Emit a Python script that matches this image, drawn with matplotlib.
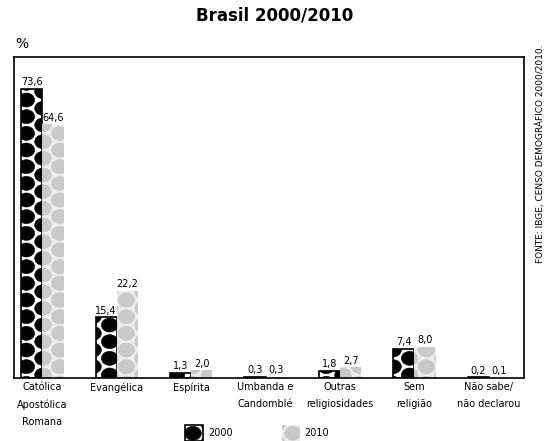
import warnings
import matplotlib.pyplot as plt
import matplotlib.hatch as mhatch
from matplotlib.path import Path
import numpy as np

warnings.filterwarnings("ignore")

# data
categories = ["Católica\nApostólica\nRomana", "Evangélica", "Espírita",
              "Umbanda e\nCandomblé", "Outras\nreligiosidades", "Sem\nreligião",
              "Não sabe/\nnão declarou"]
values_2000 = [73.6, 15.4, 1.3, 0.3, 1.8, 7.4, 0.2]
values_2010 = [64.6, 22.2, 2.0, 0.3, 2.7, 8.0, 0.1]
years = ["2000", "2010"]


class OvalDots(mhatch.HatchPatternBase):
    # filled ovals on a staggered grid, used with hatch="e"
    def __init__(self, hatch, density):
        circle = Path.unit_circle()
        self.shape_vertices = circle.vertices
        self.shape_codes = circle.codes
        dx = -0.07
        self.centres = [(dx + i / 3, j / 6) for i in range(-1, 5) for j in range(-1, 8)]
        self.centres += [(dx + 1 / 6 + i / 3, 1 / 12 + j / 6)
                         for i in range(-1, 5) for j in range(-1, 8)]
        if hatch is not None and 'e' in hatch:
            self.num_vertices = len(self.centres) * len(self.shape_vertices)
        else:
            self.num_vertices = 0

    def set_vertices_and_codes(self, vertices, codes):
        nv = len(self.shape_vertices)
        shape = self.shape_vertices * [0.083, 0.07]
        for k, (cx, cy) in enumerate(self.centres):
            vertices[k * nv:(k + 1) * nv] = shape + [cx, cy]
            codes[k * nv:(k + 1) * nv] = self.shape_codes


mhatch._hatch_types.append(OvalDots)


def fmt(v):
    return f"{v:.1f}".replace(".", ",")


plt.rcParams['hatch.linewidth'] = 0.4

fig = plt.figure(figsize=(5.5, 4.41), dpi=100)
ax = fig.add_axes([0.0255, 0.143, 0.927, 0.728])

x = np.arange(len(categories))
w = 0.285

ax.bar(x - w / 2, values_2000, w, color="white", edgecolor="black",
       hatch="e", linewidth=1.2, label=years[0])
ax.bar(x + w / 2, values_2010, w, color="#ececec", edgecolor="#c9c9c9",
       hatch="e", linewidth=0, label=years[1])

for xi, v in zip(x, values_2000):
    ax.text(xi - w / 2, v + 0.4, fmt(v), ha="center", va="bottom", fontsize=7)
for xi, v in zip(x, values_2010):
    ax.text(xi + w / 2, v + 0.4, fmt(v), ha="center", va="bottom", fontsize=7)

ax.set_xlim(-0.38, 6.47)
ax.set_ylim(0, 81.7)
ax.set_xticks(x)
ax.set_xticklabels(categories, fontsize=7, linespacing=1.9)
ax.tick_params(axis="x", length=0, pad=3)
ax.set_yticks([])
for s in ax.spines.values():
    s.set_linewidth(1.2)

fig.text(0.5, 0.965, "Brasil 2000/2010", ha="center", va="center",
         fontsize=12, fontweight="bold")
fig.text(0.027, 0.9, "%", ha="left", va="center", fontsize=10)
fig.text(0.982, 0.898, "FONTE: IBGE, CENSO DEMOGRÁFICO 2000/2010.", rotation=90,
         ha="center", va="top", fontsize=6.5)

ax.legend(loc="upper center", bbox_to_anchor=(0.477, -0.125), ncol=2, frameon=False,
          fontsize=7, handlelength=1.85, handleheight=2.2, handletextpad=0.5,
          columnspacing=5.0, borderpad=0.2)

fig.savefig("out.png", dpi=100)
